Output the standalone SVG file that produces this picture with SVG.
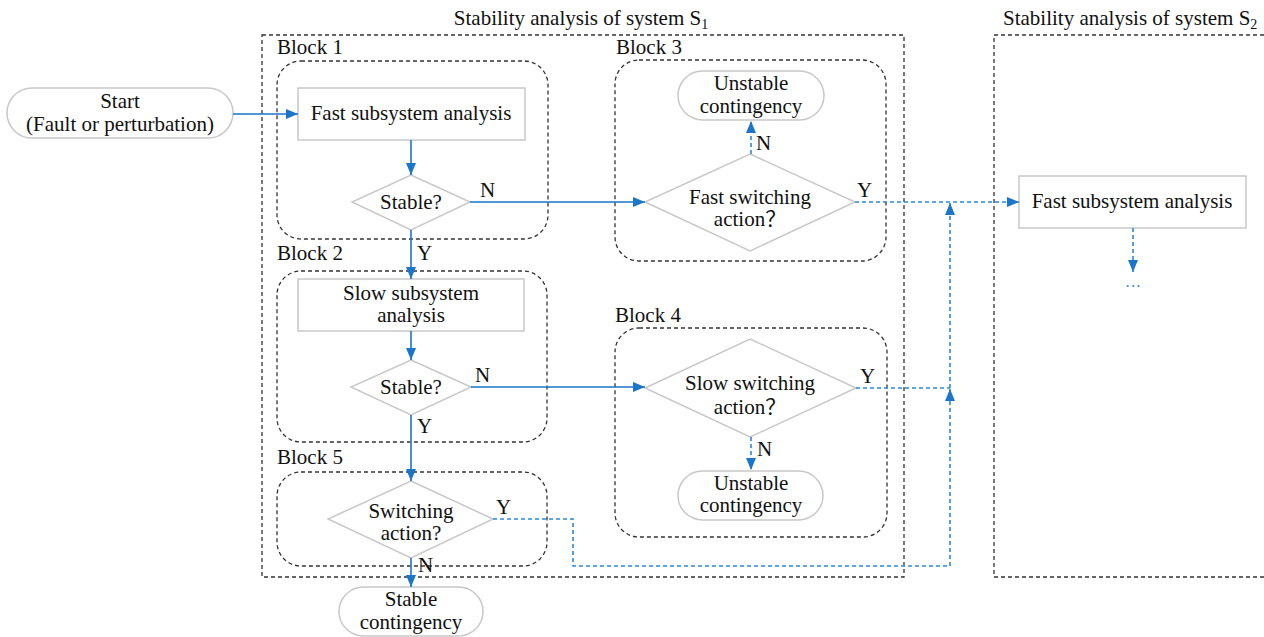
<svg xmlns="http://www.w3.org/2000/svg" width="1264" height="637" viewBox="0 0 1264 637">
  <style>
    text { font-family: "Liberation Serif", "Noto Sans CJK SC", serif; font-size: 21px; fill: #111; }
    .mid { text-anchor: middle; }
    .frame { fill: none; stroke: #333; stroke-width: 1.3; stroke-dasharray: 4 3; }
    .node { fill: #fff; stroke: #c8c8c8; stroke-width: 1.5; }
    .flow { fill: none; stroke: #1b75c8; stroke-width: 1.6; }
    .alt { fill: none; stroke: #2a8ad8; stroke-width: 1.6; stroke-dasharray: 4 3; }
  </style>
  <defs>
    <marker id="arrow" markerUnits="userSpaceOnUse" markerWidth="13" markerHeight="12" refX="12" refY="5" orient="auto">
      <path d="M0,0 L12,5 L0,10 z" fill="#1b75c8"/>
    </marker>
  </defs>

  <rect width="1264" height="637" fill="#fff"/>

  <!-- system frames -->
  <g id="system-s1">
    <rect class="frame" x="262" y="35" width="642" height="542"/>
    <text class="mid" x="581" y="25">Stability analysis of system S<tspan font-size="14" dy="4">1</tspan></text>
  </g>
  <g id="system-s2">
    <path class="frame" d="M1264,35 H994 V577 H1264"/>
    <text x="1003" y="25">Stability analysis of system S<tspan font-size="14" dy="4">2</tspan></text>
  </g>

  <!-- blocks -->
  <g id="block1">
    <rect class="frame" x="277" y="61" width="271" height="178" rx="24"/>
    <text x="277" y="54">Block 1</text>
  </g>
  <g id="block2">
    <rect class="frame" x="277" y="271" width="270" height="171" rx="24"/>
    <text x="277" y="260">Block 2</text>
  </g>
  <g id="block3">
    <rect class="frame" x="615" y="60" width="271" height="201" rx="24"/>
    <text x="616" y="54">Block 3</text>
  </g>
  <g id="block4">
    <rect class="frame" x="615" y="328" width="272" height="209" rx="24"/>
    <text x="615" y="322">Block 4</text>
  </g>
  <g id="block5">
    <rect class="frame" x="277" y="472" width="270" height="94" rx="24"/>
    <text x="277" y="464">Block 5</text>
  </g>

  <!-- nodes -->
  <g id="start">
    <rect class="node" x="7" y="88" width="226" height="50" rx="25"/>
    <text class="mid" x="120" y="108">Start</text>
    <text class="mid" x="120" y="131">(Fault or perturbation)</text>
  </g>
  <g id="fast-analysis">
    <rect class="node" x="298" y="88" width="227" height="52"/>
    <text class="mid" x="411" y="120">Fast subsystem analysis</text>
  </g>
  <g id="stable1">
    <polygon class="node" points="411,175 470,202 411,230 352,202"/>
    <text class="mid" x="411" y="209">Stable?</text>
  </g>
  <g id="slow-analysis">
    <rect class="node" x="298" y="279" width="226" height="52"/>
    <text class="mid" x="411" y="300">Slow subsystem</text>
    <text class="mid" x="411" y="322">analysis</text>
  </g>
  <g id="stable2">
    <polygon class="node" points="411,360 471,387 411,415 351,387"/>
    <text class="mid" x="411" y="394">Stable?</text>
  </g>
  <g id="switching">
    <polygon class="node" points="411,481 493,519 411,558 328,519"/>
    <text class="mid" x="411" y="518">Switching</text>
    <text class="mid" x="411" y="540">action?</text>
  </g>
  <g id="stable-contingency">
    <rect class="node" x="339" y="587" width="144" height="49" rx="24.5"/>
    <text class="mid" x="411" y="606">Stable</text>
    <text class="mid" x="411" y="629">contingency</text>
  </g>
  <g id="fast-switching">
    <polygon class="node" points="750,154 855,202 750,251 645,202"/>
    <text class="mid" x="750" y="204">Fast switching</text>
    <text class="mid" x="750" y="226">action？</text>
  </g>
  <g id="unstable1">
    <rect class="node" x="678" y="71" width="146" height="49" rx="24.5"/>
    <text class="mid" x="751" y="90">Unstable</text>
    <text class="mid" x="751" y="113">contingency</text>
  </g>
  <g id="slow-switching">
    <polygon class="node" points="750,339 856,388 750,437 645,388"/>
    <text class="mid" x="750" y="390">Slow switching</text>
    <text class="mid" x="750" y="414">action？</text>
  </g>
  <g id="unstable2">
    <rect class="node" x="678" y="471" width="145" height="49" rx="24.5"/>
    <text class="mid" x="751" y="490">Unstable</text>
    <text class="mid" x="751" y="512">contingency</text>
  </g>
  <g id="fast-analysis-s2">
    <rect class="node" x="1019" y="176" width="227" height="52"/>
    <text class="mid" x="1132" y="208">Fast subsystem analysis</text>
  </g>

  <!-- connectors -->
  <g id="connectors">
    <path class="flow" d="M233,114 H298" marker-end="url(#arrow)"/>
    <path class="flow" d="M411,140 V175" marker-end="url(#arrow)"/>
    <path class="flow" d="M470,202 H645" marker-end="url(#arrow)"/>
    <path class="flow" d="M411,230 V279" marker-end="url(#arrow)"/>
    <path class="flow" d="M411,331 V360" marker-end="url(#arrow)"/>
    <path class="flow" d="M471,387 H645" marker-end="url(#arrow)"/>
    <path class="flow" d="M411,415 V481" marker-end="url(#arrow)"/>
    <path class="flow" d="M411,558 V587" marker-end="url(#arrow)"/>
    <path class="alt" d="M751,154 V121" marker-end="url(#arrow)"/>
    <path class="alt" d="M751,437 V470" marker-end="url(#arrow)"/>
    <path class="alt" d="M855,202 H1019" marker-end="url(#arrow)"/>
    <path class="alt" d="M493,519 H573 V566 H950 V389" marker-end="url(#arrow)"/>
    <path class="alt" d="M856,388 H950"/>
    <path class="alt" d="M950,388 V203" marker-end="url(#arrow)"/>
    <path class="alt" d="M1133,228 V272" marker-end="url(#arrow)"/>

    <text x="480" y="197">N</text>
    <text x="417" y="260">Y</text>
    <text x="475" y="382">N</text>
    <text x="417" y="433">Y</text>
    <text x="496" y="514">Y</text>
    <text x="418" y="572">N</text>
    <text x="756" y="150">N</text>
    <text x="857" y="197">Y</text>
    <text x="860" y="383">Y</text>
    <text x="757" y="456">N</text>
    <text class="mid" x="1133" y="287" style="fill:#2a8ad8;font-size:16px">…</text>
  </g>
</svg>
